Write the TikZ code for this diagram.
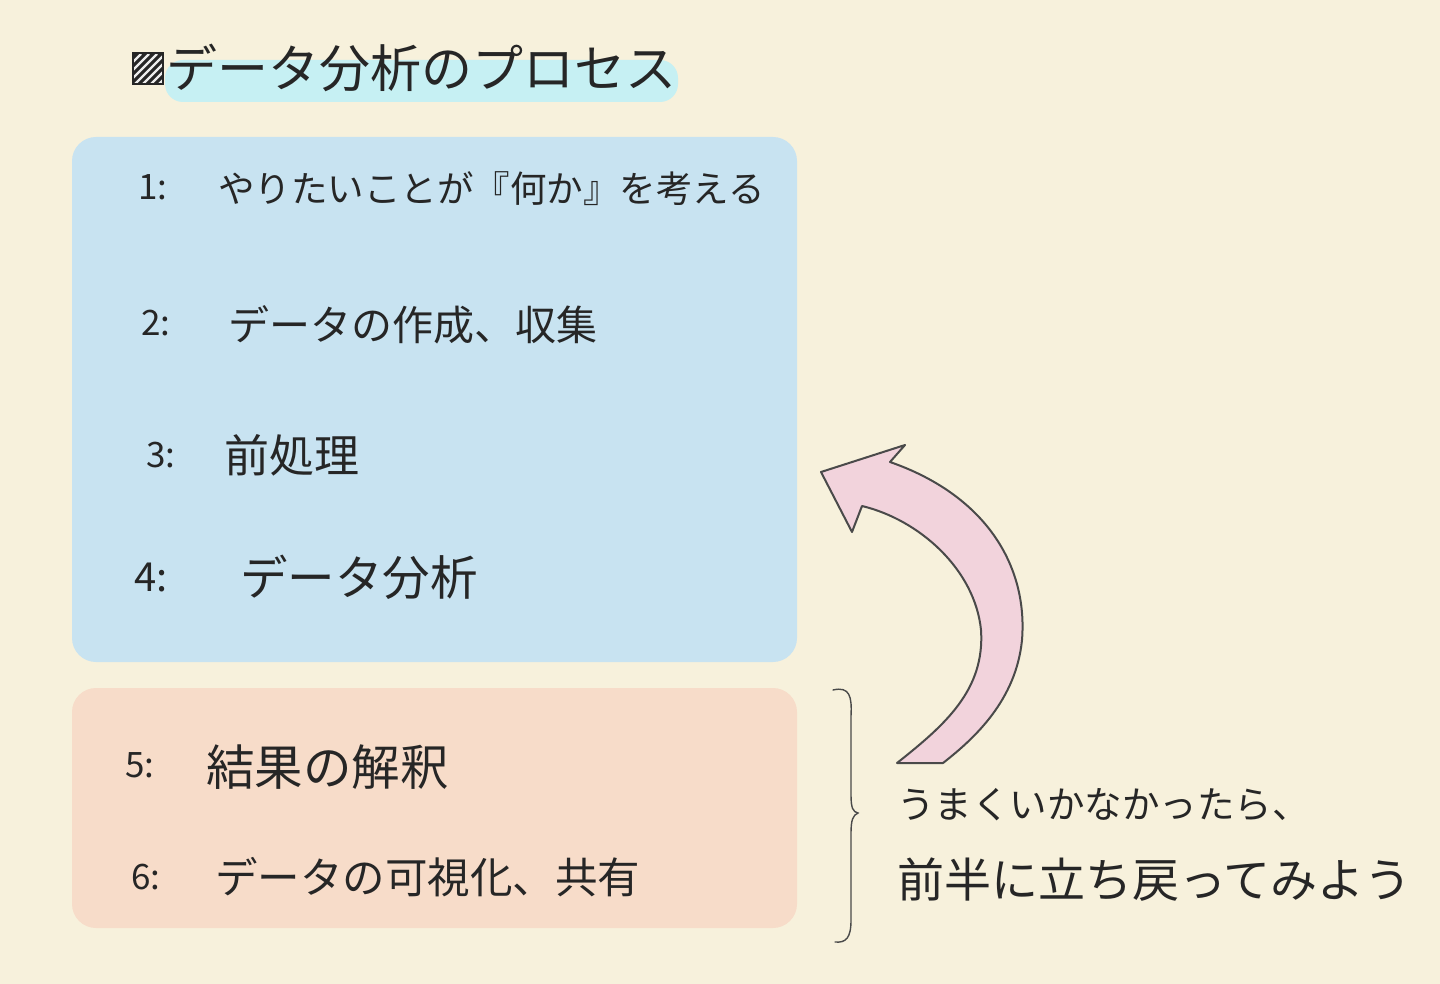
\documentclass[tikz,border=0pt]{standalone}
\usepackage{fontspec}
\setmainfont{Noto Sans CJK JP}
\definecolor{paper}{HTML}{F7F1DC}
\definecolor{boxblue}{HTML}{C8E3F1}
\definecolor{boxorange}{HTML}{F7DCC9}
\definecolor{hilite}{HTML}{C6F0F3}
\definecolor{arrowpink}{HTML}{F2D3DC}
\definecolor{ink}{HTML}{262626}
\definecolor{pencil}{HTML}{4A4A4A}
\tikzset{
  lbl/.style={anchor=west, inner sep=0pt, text=ink},
  num/.style={lbl, font=\fontsize{35}{36}\selectfont},
  panel/.style={rounded corners=24pt, draw=none},
}
\newcommand{\fs}[1]{\fontsize{#1}{#1}\selectfont}
\begin{document}
\begin{tikzpicture}[x=1pt,y=-1pt]
\useasboundingbox (0,0) rectangle (1440,984);
\fill[paper] (0,0) rectangle (1440,984);

% title
\fill[hilite, rounded corners=18pt] (165,60) rectangle (678,102);
\begin{scope}
  \clip (133,53) rectangle (163,84);
  \fill[ink] (133,53) rectangle (163,84);
  \foreach \k in {-30,-22,...,40} {
    \draw[white!85!gray, line width=2.2pt] (133+\k,84) -- (163+\k,54);
  }
\end{scope}
\draw[ink, line width=1.5pt] (133,53) rectangle (163,84);
\node[lbl, font=\fs{51}] (title) at (166,68) {データ分析のプロセス};

% panels
\fill[boxblue, panel] (72,137) rectangle (797,662);
\fill[boxorange, panel] (72,688) rectangle (797,928);

% items
\node[num] (n1) at (138,187) {1:};
\node[lbl, font=\fs{36.5}] (t1) at (218,189) {やりたいことが『何か』を考える};
\node[num] (n2) at (141,323) {2:};
\node[lbl, font=\fs{41}] (t2) at (228,325) {データの作成、収集};
\node[num] (n3) at (146,455) {3:};
\node[lbl, font=\fs{45}] (t3) at (224,455) {前処理};
\node[num, font=\fs{40}] (n4) at (134,577) {4:};
\node[lbl, font=\fs{47.5}] (t4) at (240,577) {データ分析};
\node[num] (n5) at (125,765) {5:};
\node[lbl, font=\fs{48.5}] (t5) at (206,767) {結果の解釈};
\node[num] (n6) at (131,877) {6:};
\node[lbl, font=\fs{42.5}] (t6) at (215,877) {データの可視化、共有};

% brace
\draw[pencil, line width=1.4pt, line cap=round]
  (833,690) .. controls (850,686) and (852,697) .. (851,716)
  -- (851,795) .. controls (851,808) and (853,812) .. (858,813)
  .. controls (853,815) and (851,820) .. (851,833)
  -- (851,920) .. controls (851,938) and (846,943) .. (835,942);

% curved arrow
\filldraw[fill=arrowpink, draw=pencil, line width=2pt, line join=round]
  (821,472) -- (905,445) -- (890,462)
  .. controls (985,495) and (1028,565) .. (1022,640)
  .. controls (1016,700) and (975,738) .. (943,763)
  -- (897,763)
  .. controls (945,725) and (985,690) .. (981,630)
  .. controls (975,570) and (920,520) .. (862,506)
  -- (852,532) -- cycle;

% note
\node[lbl, font=\fs{37.5}] (r1) at (897,805) {うまくいかなかったら、};
\node[lbl, font=\fs{47}] (r2) at (897,880) {前半に立ち戻ってみよう};
\end{tikzpicture}
\end{document}
